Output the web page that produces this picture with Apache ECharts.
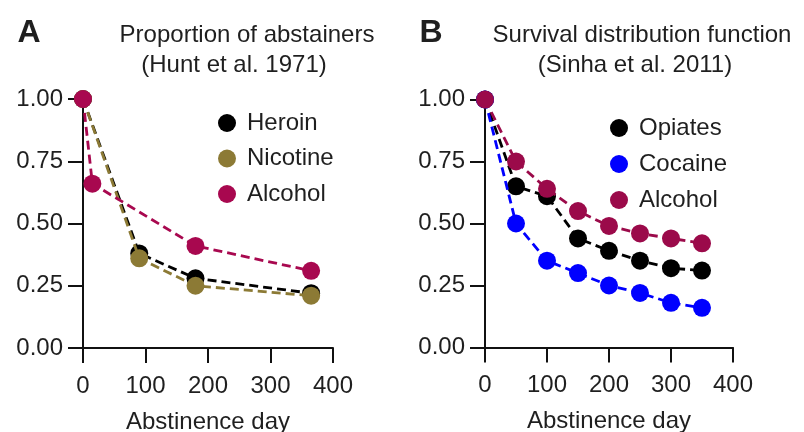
<!DOCTYPE html>
<html>
<head>
<meta charset="utf-8">
<script src="https://cdn.jsdelivr.net/npm/echarts@6/dist/echarts.min.js"></script>
<style>
html,body{margin:0;padding:0;background:#fff;}
#c{width:804px;height:432px;}
</style>
</head>
<body>
<div id="c"></div>
<script>
// Panel A (Hunt et al. 1971)
const heroinA   = [[0, 1.00], [90, 0.38], [180, 0.28], [365, 0.22]];
const nicotineA = [[0, 1.00], [90, 0.36], [180, 0.25], [365, 0.21]];
const alcoholA  = [[0, 1.00], [15, 0.66], [180, 0.41], [365, 0.31]];
// Panel B (Sinha et al. 2011)
const daysB     = [0, 50, 100, 150, 200, 250, 300, 350];
const opiatesB  = [1.00, 0.65, 0.61, 0.44, 0.39, 0.35, 0.32, 0.31];
const cocaineB  = [1.00, 0.50, 0.35, 0.30, 0.25, 0.22, 0.18, 0.16];
const alcoholB  = [1.00, 0.75, 0.64, 0.55, 0.49, 0.46, 0.44, 0.42];
const yTicks = [0, 0.25, 0.5, 0.75, 1];
const xTicks = [0, 100, 200, 300, 400];

const C = {
  black: '#000000', olive: '#8c7a35', alcA: '#a8084f', alcB: '#9b0a4a', blue: '#0000ff'
};
const FONT = '"Liberation Sans", Arial, sans-serif';
const TXT = '#1f1f1f';
const AX = '#111111';

function zip(xs, ys) { return xs.map((x, i) => [x, ys[i]]); }

function xAxis(gi) {
  return {
    type: 'value', gridIndex: gi, min: xTicks[0], max: xTicks[xTicks.length - 1], interval: 100,
    name: 'Abstinence day', nameLocation: 'middle', nameGap: 62,
    nameTextStyle: { fontFamily: FONT, fontSize: 24, color: TXT },
    axisLine: { show: true, onZero: false, lineStyle: { color: AX, width: 2 } },
    axisTick: { show: true, length: 15, lineStyle: { color: AX, width: 2 } },
    axisLabel: { margin: 26, fontFamily: FONT, fontSize: 24, color: TXT },
    splitLine: { show: false }
  };
}
function yAxis(gi) {
  return {
    type: 'value', gridIndex: gi, min: yTicks[0], max: yTicks[yTicks.length - 1], interval: 0.25,
    axisLine: { show: true, onZero: false, lineStyle: { color: AX, width: 2 } },
    axisTick: { show: true, length: 15, lineStyle: { color: AX, width: 2 } },
    axisLabel: { margin: 20, fontFamily: FONT, fontSize: 24, color: TXT, formatter: v => v.toFixed(2) },
    splitLine: { show: false }
  };
}
function line(name, data, color, gi, z) {
  return {
    type: 'line', name, data, xAxisIndex: gi, yAxisIndex: gi, z,
    symbol: 'circle', symbolSize: 18, clip: false, animation: false,
    itemStyle: { color, borderWidth: 0 },
    lineStyle: { color, width: 2.8, type: [9, 5] },
    emphasis: { disabled: true }
  };
}
function legend(data, left, top, gap) {
  return {
    left, top, orient: 'vertical', itemWidth: 30, itemHeight: 18, itemGap: gap,
    icon: 'circle', selectedMode: false,
    textStyle: { fontFamily: FONT, fontSize: 24, color: TXT, lineHeight: 24 },
    data
  };
}
function txt(text, x, y, size, weight) {
  return { type: 'text', x, y, style: { text, fontFamily: FONT, fontSize: size, fontWeight: weight || 'normal', fill: TXT, align: 'center', verticalAlign: 'middle' } };
}

const chart = echarts.init(document.getElementById('c'), null, { renderer: 'canvas' });
chart.setOption({
  backgroundColor: '#fff',
  animation: false,
  grid: [
    { left: 83, top: 99, width: 250, height: 249, containLabel: false, outerBoundsMode: 'none' },
    { left: 485, top: 99.5, width: 248, height: 248, containLabel: false, outerBoundsMode: 'none' }
  ],
  xAxis: [xAxis(0), xAxis(1)],
  yAxis: [yAxis(0), yAxis(1)],
  legend: [
    legend([
      { name: 'Heroin', itemStyle: { color: C.black } },
      { name: 'Nicotine', itemStyle: { color: C.olive } },
      { name: 'Alcohol', itemStyle: { color: C.alcA } }
    ], 213, 106, 11.5),
    legend([
      { name: 'Opiates', itemStyle: { color: C.black } },
      { name: 'Cocaine', itemStyle: { color: C.blue } },
      { name: 'Alcohol', itemStyle: { color: C.alcB } }
    ], 605, 111, 12)
  ],
  graphic: [
    txt('A', 29, 33, 32, 'bold'),
    txt('Proportion of abstainers', 247, 35, 24),
    txt('(Hunt et al. 1971)', 234, 65, 24),
    txt('B', 431, 33, 32, 'bold'),
    txt('Survival distribution function', 642, 35, 24),
    txt('(Sinha et al. 2011)', 635, 65, 24)
  ],
  series: [
    line('Heroin', heroinA, C.black, 0, 2),
    line('Nicotine', nicotineA, C.olive, 0, 3),
    line('Alcohol', alcoholA, C.alcA, 0, 4),
    line('Opiates', zip(daysB, opiatesB), C.black, 1, 2),
    line('Cocaine', zip(daysB, cocaineB), C.blue, 1, 3),
    line('Alcohol', zip(daysB, alcoholB), C.alcB, 1, 4)
  ]
});
</script>
</body>
</html>
